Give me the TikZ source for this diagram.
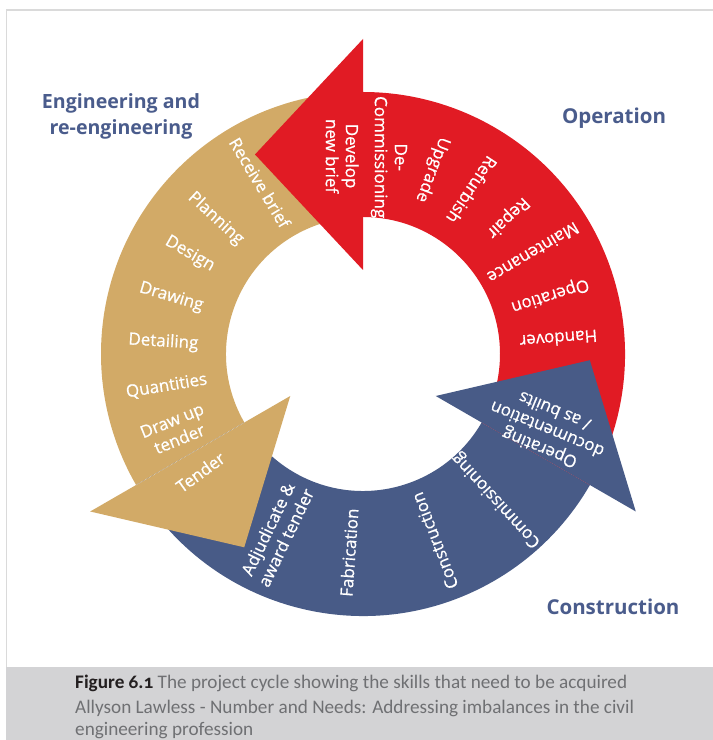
\documentclass[tikz,border=0pt]{standalone}
\usepackage{fontspec}
\setmainfont{Open Sans}
\newfontfamily\lblfont[FakeBold=0.7]{Open Sans}
\newfontfamily\capfont[Numbers=OldStyle]{Carlito}
\usetikzlibrary{calc}
\definecolor{tanc}{HTML}{D2AA67}
\definecolor{redc}{HTML}{E11B24}
\definecolor{bluec}{HTML}{485B87}
\definecolor{headc}{HTML}{4A5C8C}
\definecolor{capbg}{HTML}{D3D3D5}
\definecolor{captext}{HTML}{6F7073}
\definecolor{capdark}{HTML}{231F20}
\definecolor{framec}{HTML}{DADADA}
\begin{document}
\begin{tikzpicture}[x=1pt,y=1pt,
  lbl/.style={text=white,font=\lblfont\fontsize{17}{20}\selectfont,align=center,inner sep=0pt},
  heading/.style={text=headc,font=\bfseries\fontsize{20.5}{26}\selectfont,align=center,inner sep=0pt},
  capline/.style={anchor=base west,inner sep=0pt,text=captext,font=\capfont\fontsize{19.2}{23}\selectfont}]
\useasboundingbox (0,0) rectangle (713,740);
\fill[white] (0,0) rectangle (713,740);
\draw[framec,line width=1.5pt] (6.5,73) -- (6.5,730) -- (713,730);
\fill[capbg] (6,0) rectangle (713,73);

\def\Ri{137}\def\Ro{262}\def\Hi{84}\def\Ho{315}
\begin{scope}[shift={(363,386)}]
% ring bodies
\fill[tanc] (90:\Ro) arc[start angle=90,end angle=210,radius=\Ro] -- (210:\Ri) arc[start angle=210,end angle=90,radius=\Ri] -- cycle;
\fill[bluec] (210:\Ro) arc[start angle=210,end angle=330,radius=\Ro] -- (330:\Ri) arc[start angle=330,end angle=210,radius=\Ri] -- cycle;
\fill[redc] (330:\Ro) arc[start angle=330,end angle=450,radius=\Ro] -- (450:\Ri) arc[start angle=450,end angle=330,radius=\Ri] -- cycle;
% arrow heads
\fill[redc] (90:\Hi) -- (90:\Ho) -- (118.43:226.9) -- cycle;
\fill[tanc] (210:\Hi) -- (210:\Ho) -- (238.43:226.9) -- cycle;
\fill[bluec] (330:\Hi) -- (330:\Ho) -- (358.43:226.9) -- cycle;
\draw[white,opacity=0.8,densely dotted,line width=0.5pt] (210:\Ri) -- (210:\Ro);

% tan labels
\node[lbl,rotate=-59] (t1) at (121:200) {Receive brief};
\node[lbl,rotate=-42.6] (t2) at (137.4:200) {Planning};
\node[lbl,rotate=-30] (t3) at (150:200) {Design};
\node[lbl,rotate=-16.5] (t4) at (163.5:200) {Drawing};
\node[lbl,rotate=-3.4] (t5) at (176.6:200) {Detailing};
\node[lbl,rotate=9.3] (t6) at (189.3:199) {Quantities};
\node[lbl,rotate=22] (t7) at (202:202) {Draw up\\tender};
\node[lbl,rotate=36] (t8) at (216:201) {Tender};
% red labels
\node[lbl,rotate=-90] (r1) at (96:199) {Develop\\new brief};
\node[lbl,rotate=-90] (r2) at (82.5:198.5) {De-\\Commissioning};
\node[lbl,rotate=-110.6] (r3) at (69.4:197) {Upgrade};
\node[lbl,rotate=-123.6] (r4) at (56.4:197) {Refurbish};
\node[lbl,rotate=-136.6] (r5) at (43.4:199) {Repair};
\node[lbl,rotate=-149.3] (r6) at (30.7:198) {Maintenance};
\node[lbl,rotate=-162.5] (r7) at (17.5:196) {Operation};
\node[lbl,rotate=-175.6] (r8) at (4.4:196) {Handover};
% blue labels
\node[lbl,rotate=64.3] (b1) at (244.3:199) {Adjudicate \&\\award tender};
\node[lbl,rotate=86] (b2) at (266:199) {Fabrication};
\node[lbl,rotate=111] (b3) at (291:200) {Construction};
\node[lbl,rotate=132.5] (b4) at (312.5:198) {Commissioning};
\node[lbl,rotate=157.6] (b5) at (337.6:199) {Operating\\documentation\\/ as builts};
\end{scope}

% headings
\node[heading,font=\bfseries\fontsize{19.6}{26}\selectfont] (h1) at (121,623.5) {Engineering and\\re-engineering};
\node[heading] (h2) at (614,622) {Operation};
\node[heading] (h3) at (613,133) {Construction};

% caption
\node[capline] (c1) at (75,51) {{\bfseries\color{capdark}Figure 6.1} The project cycle showing the skills that need to be acquired};
\node[capline] (c2) at (75,27) {Allyson Lawless - Number and Needs: Addressing imbalances in the civil};
\node[capline] (c3) at (75,5) {engineering profession};
\end{tikzpicture}
\end{document}
